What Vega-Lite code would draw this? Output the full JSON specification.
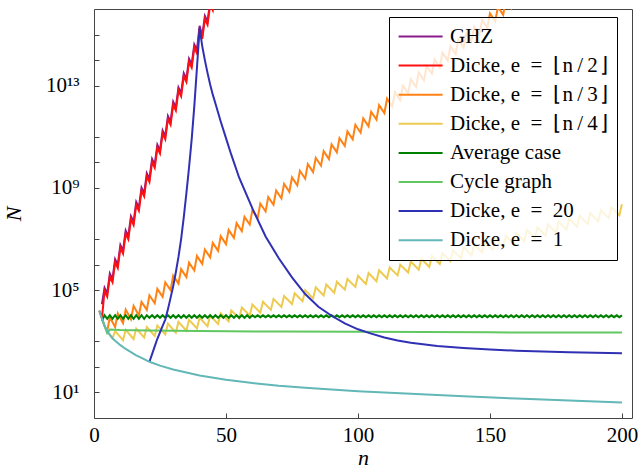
{
"$schema": "https://vega.github.io/schema/vega-lite/v6.json",
"width": 538, "height": 409,
"autosize": {"type": "none"},
"padding": {"left": 94, "top": 9, "right": 9, "bottom": 50},
"background": "white",
"config": {
  "view": {"stroke": "#444", "strokeWidth": 1},
  "font": "Liberation Serif, Times New Roman, serif",
  "legend": {"strokeWidth": 1},
  "axis": {"grid": false, "domain": false, "tickSize": -5, "tickColor": "#444", "tickWidth": 1,
           "labelFont": "Liberation Serif, Times New Roman, serif", "labelFontSize": 21, "labelColor": "black",
           "titleFont": "Liberation Serif, Times New Roman, serif", "titleFontSize": 22, "titleFontWeight": "normal", "titleFontStyle": "italic", "titleColor": "black",
           "labelOverlap": false}
},
"data": {"values": [
{"s":"GHZ","n":3,"N":2.82e4},{"s":"GHZ","n":4,"N":1.23e5},{"s":"GHZ","n":5,"N":7.41e4},{"s":"GHZ","n":6,"N":4.47e5},{"s":"GHZ","n":7,"N":2.69e5},{"s":"GHZ","n":8,"N":1.62e6},{"s":"GHZ","n":9,"N":9.77e5},{"s":"GHZ","n":10,"N":5.89e6},{"s":"GHZ","n":11,"N":3.55e6},{"s":"GHZ","n":12,"N":2.14e7},{"s":"GHZ","n":13,"N":1.29e7},{"s":"GHZ","n":14,"N":7.76e7},{"s":"GHZ","n":15,"N":4.68e7},{"s":"GHZ","n":16,"N":2.82e8},{"s":"GHZ","n":17,"N":1.70e8},{"s":"GHZ","n":18,"N":1.02e9},{"s":"GHZ","n":19,"N":6.17e8},{"s":"GHZ","n":20,"N":3.72e9},{"s":"GHZ","n":21,"N":2.24e9},{"s":"GHZ","n":22,"N":1.35e10},{"s":"GHZ","n":23,"N":8.13e9},{"s":"GHZ","n":24,"N":4.90e10},{"s":"GHZ","n":25,"N":2.95e10},{"s":"GHZ","n":26,"N":1.78e11},{"s":"GHZ","n":27,"N":1.07e11},{"s":"GHZ","n":28,"N":6.46e11},{"s":"GHZ","n":29,"N":3.89e11},{"s":"GHZ","n":30,"N":2.34e12},{"s":"GHZ","n":31,"N":1.41e12},{"s":"GHZ","n":32,"N":8.51e12},{"s":"GHZ","n":33,"N":5.13e12},{"s":"GHZ","n":34,"N":3.09e13},{"s":"GHZ","n":35,"N":1.86e13},{"s":"GHZ","n":36,"N":1.12e14},{"s":"GHZ","n":37,"N":6.76e13},{"s":"GHZ","n":38,"N":4.07e14},{"s":"GHZ","n":39,"N":2.45e14},{"s":"GHZ","n":40,"N":2.19e15},{"s":"GHZ","n":41,"N":8.91e14},{"s":"GHZ","n":42,"N":5.37e15},{"s":"GHZ","n":43,"N":3.24e15},{"s":"GHZ","n":44,"N":1.95e16},{"s":"GHZ","n":45,"N":1.17e16},
{"s":"D2","n":2,"N":1.58e4},{"s":"D2","n":3,"N":7.94e3},{"s":"D2","n":4,"N":9.33e4},{"s":"D2","n":5,"N":5.62e4},{"s":"D2","n":6,"N":3.39e5},{"s":"D2","n":7,"N":2.04e5},{"s":"D2","n":8,"N":1.23e6},{"s":"D2","n":9,"N":7.41e5},{"s":"D2","n":10,"N":4.47e6},{"s":"D2","n":11,"N":2.69e6},{"s":"D2","n":12,"N":1.62e7},{"s":"D2","n":13,"N":9.77e6},{"s":"D2","n":14,"N":5.89e7},{"s":"D2","n":15,"N":3.55e7},{"s":"D2","n":16,"N":2.14e8},{"s":"D2","n":17,"N":1.29e8},{"s":"D2","n":18,"N":7.76e8},{"s":"D2","n":19,"N":4.68e8},{"s":"D2","n":20,"N":2.82e9},{"s":"D2","n":21,"N":1.70e9},{"s":"D2","n":22,"N":1.02e10},{"s":"D2","n":23,"N":6.17e9},{"s":"D2","n":24,"N":3.72e10},{"s":"D2","n":25,"N":2.24e10},{"s":"D2","n":26,"N":1.35e11},{"s":"D2","n":27,"N":8.13e10},{"s":"D2","n":28,"N":4.90e11},{"s":"D2","n":29,"N":2.95e11},{"s":"D2","n":30,"N":1.78e12},{"s":"D2","n":31,"N":1.07e12},{"s":"D2","n":32,"N":6.46e12},{"s":"D2","n":33,"N":3.89e12},{"s":"D2","n":34,"N":2.34e13},{"s":"D2","n":35,"N":1.41e13},{"s":"D2","n":36,"N":8.51e13},{"s":"D2","n":37,"N":5.13e13},{"s":"D2","n":38,"N":3.09e14},{"s":"D2","n":39,"N":1.86e14},{"s":"D2","n":40,"N":1.66e15},{"s":"D2","n":41,"N":6.76e14},{"s":"D2","n":42,"N":4.07e15},{"s":"D2","n":43,"N":2.45e15},{"s":"D2","n":44,"N":1.48e16},{"s":"D2","n":45,"N":8.91e15},{"s":"D2","n":46,"N":5.37e16},
{"s":"D3","n":3,"N":7.94e3},{"s":"D3","n":4,"N":3.98e3},{"s":"D3","n":5,"N":2.51e3},{"s":"D3","n":6,"N":8.71e3},{"s":"D3","n":8,"N":3.63e3},{"s":"D3","n":9,"N":1.23e4},{"s":"D3","n":11,"N":5.13e3},{"s":"D3","n":12,"N":1.74e4},{"s":"D3","n":14,"N":7.24e3},{"s":"D3","n":15,"N":2.45e4},{"s":"D3","n":17,"N":1.02e4},{"s":"D3","n":18,"N":3.47e4},{"s":"D3","n":20,"N":1.70e4},{"s":"D3","n":21,"N":6.31e4},{"s":"D3","n":23,"N":3.09e4},{"s":"D3","n":24,"N":1.12e5},{"s":"D3","n":26,"N":5.50e4},{"s":"D3","n":27,"N":2.04e5},{"s":"D3","n":29,"N":1.00e5},{"s":"D3","n":30,"N":3.72e5},{"s":"D3","n":32,"N":1.82e5},{"s":"D3","n":33,"N":6.61e5},{"s":"D3","n":35,"N":3.24e5},{"s":"D3","n":36,"N":1.20e6},{"s":"D3","n":38,"N":5.89e5},{"s":"D3","n":39,"N":2.19e6},{"s":"D3","n":41,"N":1.07e6},{"s":"D3","n":42,"N":3.89e6},{"s":"D3","n":44,"N":1.91e6},{"s":"D3","n":45,"N":7.08e6},{"s":"D3","n":47,"N":3.47e6},{"s":"D3","n":48,"N":1.29e7},{"s":"D3","n":50,"N":6.31e6},{"s":"D3","n":51,"N":2.29e7},{"s":"D3","n":53,"N":1.12e7},{"s":"D3","n":54,"N":4.17e7},{"s":"D3","n":56,"N":2.04e7},{"s":"D3","n":57,"N":7.41e7},{"s":"D3","n":59,"N":3.72e7},{"s":"D3","n":60,"N":1.35e8},{"s":"D3","n":62,"N":6.61e7},{"s":"D3","n":63,"N":2.45e8},{"s":"D3","n":65,"N":1.20e8},{"s":"D3","n":66,"N":4.37e8},{"s":"D3","n":68,"N":2.19e8},{"s":"D3","n":69,"N":7.94e8},{"s":"D3","n":71,"N":3.89e8},{"s":"D3","n":72,"N":1.45e9},{"s":"D3","n":74,"N":7.08e8},{"s":"D3","n":75,"N":2.57e9},{"s":"D3","n":77,"N":1.26e9},{"s":"D3","n":78,"N":4.68e9},{"s":"D3","n":80,"N":2.29e9},{"s":"D3","n":81,"N":8.51e9},{"s":"D3","n":83,"N":4.17e9},{"s":"D3","n":84,"N":1.51e10},{"s":"D3","n":86,"N":7.41e9},{"s":"D3","n":87,"N":2.75e10},{"s":"D3","n":89,"N":1.35e10},{"s":"D3","n":90,"N":5.01e10},{"s":"D3","n":92,"N":2.45e10},{"s":"D3","n":93,"N":8.91e10},{"s":"D3","n":95,"N":4.37e10},{"s":"D3","n":96,"N":1.62e11},{"s":"D3","n":98,"N":7.94e10},{"s":"D3","n":99,"N":2.95e11},{"s":"D3","n":101,"N":1.45e11},{"s":"D3","n":102,"N":5.25e11},{"s":"D3","n":104,"N":2.57e11},{"s":"D3","n":105,"N":9.55e11},{"s":"D3","n":107,"N":4.68e11},{"s":"D3","n":108,"N":1.74e12},{"s":"D3","n":110,"N":8.51e11},{"s":"D3","n":111,"N":3.09e12},{"s":"D3","n":113,"N":1.51e12},{"s":"D3","n":114,"N":5.62e12},{"s":"D3","n":116,"N":2.75e12},{"s":"D3","n":117,"N":1.00e13},{"s":"D3","n":119,"N":5.01e12},{"s":"D3","n":120,"N":1.82e13},{"s":"D3","n":122,"N":8.91e12},{"s":"D3","n":123,"N":3.31e13},{"s":"D3","n":125,"N":1.62e13},{"s":"D3","n":126,"N":5.89e13},{"s":"D3","n":128,"N":2.95e13},{"s":"D3","n":129,"N":1.07e14},{"s":"D3","n":131,"N":5.25e13},{"s":"D3","n":132,"N":1.95e14},{"s":"D3","n":134,"N":9.55e13},{"s":"D3","n":135,"N":3.47e14},{"s":"D3","n":137,"N":1.70e14},{"s":"D3","n":138,"N":6.31e14},{"s":"D3","n":140,"N":3.09e14},{"s":"D3","n":141,"N":1.15e15},{"s":"D3","n":143,"N":5.62e14},{"s":"D3","n":144,"N":2.04e15},{"s":"D3","n":146,"N":1.00e15},{"s":"D3","n":147,"N":3.72e15},{"s":"D3","n":149,"N":1.82e15},{"s":"D3","n":150,"N":6.76e15},{"s":"D3","n":152,"N":3.31e15},{"s":"D3","n":153,"N":1.20e16},{"s":"D3","n":155,"N":5.89e15},{"s":"D3","n":156,"N":2.19e16},{"s":"D3","n":158,"N":1.07e16},{"s":"D3","n":159,"N":3.98e16},
{"s":"D4","n":4,"N":3.98e3},{"s":"D4","n":5,"N":2.51e3},{"s":"D4","n":6,"N":1.78e3},{"s":"D4","n":7,"N":1.32e3},{"s":"D4","n":8,"N":2.51e3},{"s":"D4","n":11,"N":1.10e3},{"s":"D4","n":12,"N":2.82e3},{"s":"D4","n":15,"N":1.23e3},{"s":"D4","n":16,"N":3.16e3},{"s":"D4","n":19,"N":1.41e3},{"s":"D4","n":20,"N":3.63e3},{"s":"D4","n":23,"N":1.62e3},{"s":"D4","n":24,"N":4.17e3},{"s":"D4","n":27,"N":1.86e3},{"s":"D4","n":28,"N":4.90e3},{"s":"D4","n":31,"N":2.19e3},{"s":"D4","n":32,"N":5.75e3},{"s":"D4","n":35,"N":2.63e3},{"s":"D4","n":36,"N":6.92e3},{"s":"D4","n":39,"N":3.16e3},{"s":"D4","n":40,"N":8.32e3},{"s":"D4","n":43,"N":3.89e3},{"s":"D4","n":44,"N":1.02e4},{"s":"D4","n":47,"N":4.79e3},{"s":"D4","n":48,"N":1.26e4},{"s":"D4","n":51,"N":6.03e3},{"s":"D4","n":52,"N":1.62e4},{"s":"D4","n":55,"N":7.94e3},{"s":"D4","n":56,"N":2.09e4},{"s":"D4","n":59,"N":1.02e4},{"s":"D4","n":60,"N":2.75e4},{"s":"D4","n":63,"N":1.32e4},{"s":"D4","n":64,"N":3.55e4},{"s":"D4","n":67,"N":1.70e4},{"s":"D4","n":68,"N":4.57e4},{"s":"D4","n":71,"N":2.19e4},{"s":"D4","n":72,"N":5.89e4},{"s":"D4","n":75,"N":2.88e4},{"s":"D4","n":76,"N":7.59e4},{"s":"D4","n":79,"N":3.72e4},{"s":"D4","n":80,"N":1.00e5},{"s":"D4","n":83,"N":4.79e4},{"s":"D4","n":84,"N":1.29e5},{"s":"D4","n":87,"N":6.17e4},{"s":"D4","n":88,"N":1.66e5},{"s":"D4","n":91,"N":7.94e4},{"s":"D4","n":92,"N":2.14e5},{"s":"D4","n":95,"N":1.05e5},{"s":"D4","n":96,"N":2.75e5},{"s":"D4","n":99,"N":1.35e5},{"s":"D4","n":100,"N":3.63e5},{"s":"D4","n":103,"N":1.74e5},{"s":"D4","n":104,"N":4.68e5},{"s":"D4","n":107,"N":2.24e5},{"s":"D4","n":108,"N":6.03e5},{"s":"D4","n":111,"N":2.88e5},{"s":"D4","n":112,"N":7.76e5},{"s":"D4","n":115,"N":3.80e5},{"s":"D4","n":116,"N":1.00e6},{"s":"D4","n":119,"N":4.90e5},{"s":"D4","n":120,"N":1.32e6},{"s":"D4","n":123,"N":6.31e5},{"s":"D4","n":124,"N":1.70e6},{"s":"D4","n":127,"N":8.13e5},{"s":"D4","n":128,"N":2.19e6},{"s":"D4","n":131,"N":1.05e6},{"s":"D4","n":132,"N":2.82e6},{"s":"D4","n":135,"N":1.38e6},{"s":"D4","n":136,"N":3.63e6},{"s":"D4","n":139,"N":1.78e6},{"s":"D4","n":140,"N":4.79e6},{"s":"D4","n":143,"N":2.29e6},{"s":"D4","n":144,"N":6.17e6},{"s":"D4","n":147,"N":2.95e6},{"s":"D4","n":148,"N":7.94e6},{"s":"D4","n":151,"N":3.80e6},{"s":"D4","n":152,"N":1.02e7},{"s":"D4","n":155,"N":5.01e6},{"s":"D4","n":156,"N":1.32e7},{"s":"D4","n":159,"N":6.46e6},{"s":"D4","n":160,"N":1.74e7},{"s":"D4","n":163,"N":8.32e6},{"s":"D4","n":164,"N":2.24e7},{"s":"D4","n":167,"N":1.07e7},{"s":"D4","n":168,"N":2.88e7},{"s":"D4","n":171,"N":1.38e7},{"s":"D4","n":172,"N":3.72e7},{"s":"D4","n":175,"N":1.82e7},{"s":"D4","n":176,"N":4.79e7},{"s":"D4","n":179,"N":2.34e7},{"s":"D4","n":180,"N":6.31e7},{"s":"D4","n":183,"N":3.02e7},{"s":"D4","n":184,"N":8.13e7},{"s":"D4","n":187,"N":3.89e7},{"s":"D4","n":188,"N":1.05e8},{"s":"D4","n":191,"N":5.01e7},{"s":"D4","n":192,"N":1.35e8},{"s":"D4","n":195,"N":6.61e7},{"s":"D4","n":196,"N":1.74e8},{"s":"D4","n":199,"N":8.51e7},{"s":"D4","n":200,"N":2.29e8},
{"s":"AVG","n":3,"N":6.31e3},{"s":"AVG","n":4,"N":1.05e4},{"s":"AVG","n":5,"N":7.59e3},{"s":"AVG","n":6,"N":1.05e4},{"s":"AVG","n":7,"N":7.59e3},{"s":"AVG","n":8,"N":1.05e4},{"s":"AVG","n":9,"N":7.59e3},{"s":"AVG","n":10,"N":1.05e4},{"s":"AVG","n":11,"N":7.59e3},{"s":"AVG","n":12,"N":1.05e4},{"s":"AVG","n":13,"N":7.59e3},{"s":"AVG","n":14,"N":1.05e4},{"s":"AVG","n":15,"N":7.59e3},{"s":"AVG","n":16,"N":1.05e4},{"s":"AVG","n":17,"N":7.59e3},{"s":"AVG","n":18,"N":1.05e4},{"s":"AVG","n":19,"N":7.59e3},{"s":"AVG","n":20,"N":1.05e4},
{"s":"AVG","n":21,"N":8.32e3},{"s":"AVG","n":22,"N":1.05e4},{"s":"AVG","n":23,"N":8.32e3},{"s":"AVG","n":24,"N":1.05e4},{"s":"AVG","n":25,"N":8.32e3},{"s":"AVG","n":26,"N":1.05e4},{"s":"AVG","n":27,"N":8.32e3},{"s":"AVG","n":28,"N":1.05e4},{"s":"AVG","n":29,"N":8.32e3},{"s":"AVG","n":30,"N":1.05e4},{"s":"AVG","n":31,"N":8.32e3},{"s":"AVG","n":32,"N":1.05e4},{"s":"AVG","n":33,"N":8.32e3},{"s":"AVG","n":34,"N":1.05e4},{"s":"AVG","n":35,"N":8.32e3},{"s":"AVG","n":36,"N":1.05e4},{"s":"AVG","n":37,"N":8.32e3},{"s":"AVG","n":38,"N":1.05e4},{"s":"AVG","n":39,"N":8.32e3},{"s":"AVG","n":40,"N":1.05e4},{"s":"AVG","n":41,"N":8.32e3},{"s":"AVG","n":42,"N":1.05e4},{"s":"AVG","n":43,"N":8.32e3},{"s":"AVG","n":44,"N":1.05e4},{"s":"AVG","n":45,"N":8.32e3},{"s":"AVG","n":46,"N":1.05e4},{"s":"AVG","n":47,"N":8.32e3},{"s":"AVG","n":48,"N":1.05e4},{"s":"AVG","n":49,"N":8.32e3},{"s":"AVG","n":50,"N":1.05e4},{"s":"AVG","n":51,"N":8.32e3},{"s":"AVG","n":52,"N":1.05e4},{"s":"AVG","n":53,"N":8.32e3},{"s":"AVG","n":54,"N":1.05e4},{"s":"AVG","n":55,"N":8.32e3},{"s":"AVG","n":56,"N":1.05e4},{"s":"AVG","n":57,"N":8.32e3},{"s":"AVG","n":58,"N":1.05e4},{"s":"AVG","n":59,"N":8.32e3},{"s":"AVG","n":60,"N":1.05e4},
{"s":"AVG","n":61,"N":8.81e3},{"s":"AVG","n":62,"N":1.04e4},{"s":"AVG","n":63,"N":8.81e3},{"s":"AVG","n":64,"N":1.04e4},{"s":"AVG","n":65,"N":8.81e3},{"s":"AVG","n":66,"N":1.04e4},{"s":"AVG","n":67,"N":8.81e3},{"s":"AVG","n":68,"N":1.04e4},{"s":"AVG","n":69,"N":8.81e3},{"s":"AVG","n":70,"N":1.04e4},{"s":"AVG","n":71,"N":8.81e3},{"s":"AVG","n":72,"N":1.04e4},{"s":"AVG","n":73,"N":8.81e3},{"s":"AVG","n":74,"N":1.04e4},{"s":"AVG","n":75,"N":8.81e3},{"s":"AVG","n":76,"N":1.04e4},{"s":"AVG","n":77,"N":8.81e3},{"s":"AVG","n":78,"N":1.04e4},{"s":"AVG","n":79,"N":8.81e3},{"s":"AVG","n":80,"N":1.04e4},{"s":"AVG","n":81,"N":8.81e3},{"s":"AVG","n":82,"N":1.04e4},{"s":"AVG","n":83,"N":8.81e3},{"s":"AVG","n":84,"N":1.04e4},{"s":"AVG","n":85,"N":8.81e3},{"s":"AVG","n":86,"N":1.04e4},{"s":"AVG","n":87,"N":8.81e3},{"s":"AVG","n":88,"N":1.04e4},{"s":"AVG","n":89,"N":8.81e3},{"s":"AVG","n":90,"N":1.04e4},{"s":"AVG","n":91,"N":8.81e3},{"s":"AVG","n":92,"N":1.04e4},{"s":"AVG","n":93,"N":8.81e3},{"s":"AVG","n":94,"N":1.04e4},{"s":"AVG","n":95,"N":8.81e3},{"s":"AVG","n":96,"N":1.04e4},{"s":"AVG","n":97,"N":8.81e3},{"s":"AVG","n":98,"N":1.04e4},{"s":"AVG","n":99,"N":8.81e3},{"s":"AVG","n":100,"N":1.04e4},{"s":"AVG","n":101,"N":8.81e3},{"s":"AVG","n":102,"N":1.04e4},{"s":"AVG","n":103,"N":8.81e3},{"s":"AVG","n":104,"N":1.04e4},{"s":"AVG","n":105,"N":8.81e3},{"s":"AVG","n":106,"N":1.04e4},{"s":"AVG","n":107,"N":8.81e3},{"s":"AVG","n":108,"N":1.04e4},{"s":"AVG","n":109,"N":8.81e3},{"s":"AVG","n":110,"N":1.04e4},{"s":"AVG","n":111,"N":8.81e3},{"s":"AVG","n":112,"N":1.04e4},{"s":"AVG","n":113,"N":8.81e3},{"s":"AVG","n":114,"N":1.04e4},{"s":"AVG","n":115,"N":8.81e3},{"s":"AVG","n":116,"N":1.04e4},{"s":"AVG","n":117,"N":8.81e3},{"s":"AVG","n":118,"N":1.04e4},{"s":"AVG","n":119,"N":8.81e3},{"s":"AVG","n":120,"N":1.04e4},{"s":"AVG","n":121,"N":8.81e3},{"s":"AVG","n":122,"N":1.04e4},{"s":"AVG","n":123,"N":8.81e3},{"s":"AVG","n":124,"N":1.04e4},{"s":"AVG","n":125,"N":8.81e3},{"s":"AVG","n":126,"N":1.04e4},{"s":"AVG","n":127,"N":8.81e3},{"s":"AVG","n":128,"N":1.04e4},{"s":"AVG","n":129,"N":8.81e3},{"s":"AVG","n":130,"N":1.04e4},{"s":"AVG","n":131,"N":8.81e3},{"s":"AVG","n":132,"N":1.04e4},{"s":"AVG","n":133,"N":8.81e3},{"s":"AVG","n":134,"N":1.04e4},{"s":"AVG","n":135,"N":8.81e3},{"s":"AVG","n":136,"N":1.04e4},{"s":"AVG","n":137,"N":8.81e3},{"s":"AVG","n":138,"N":1.04e4},{"s":"AVG","n":139,"N":8.81e3},{"s":"AVG","n":140,"N":1.04e4},{"s":"AVG","n":141,"N":8.81e3},{"s":"AVG","n":142,"N":1.04e4},{"s":"AVG","n":143,"N":8.81e3},{"s":"AVG","n":144,"N":1.04e4},{"s":"AVG","n":145,"N":8.81e3},{"s":"AVG","n":146,"N":1.04e4},{"s":"AVG","n":147,"N":8.81e3},{"s":"AVG","n":148,"N":1.04e4},{"s":"AVG","n":149,"N":8.81e3},{"s":"AVG","n":150,"N":1.04e4},{"s":"AVG","n":151,"N":8.81e3},{"s":"AVG","n":152,"N":1.04e4},{"s":"AVG","n":153,"N":8.81e3},{"s":"AVG","n":154,"N":1.04e4},{"s":"AVG","n":155,"N":8.81e3},{"s":"AVG","n":156,"N":1.04e4},{"s":"AVG","n":157,"N":8.81e3},{"s":"AVG","n":158,"N":1.04e4},{"s":"AVG","n":159,"N":8.81e3},{"s":"AVG","n":160,"N":1.04e4},{"s":"AVG","n":161,"N":8.81e3},{"s":"AVG","n":162,"N":1.04e4},{"s":"AVG","n":163,"N":8.81e3},{"s":"AVG","n":164,"N":1.04e4},{"s":"AVG","n":165,"N":8.81e3},{"s":"AVG","n":166,"N":1.04e4},{"s":"AVG","n":167,"N":8.81e3},{"s":"AVG","n":168,"N":1.04e4},{"s":"AVG","n":169,"N":8.81e3},{"s":"AVG","n":170,"N":1.04e4},{"s":"AVG","n":171,"N":8.81e3},{"s":"AVG","n":172,"N":1.04e4},{"s":"AVG","n":173,"N":8.81e3},{"s":"AVG","n":174,"N":1.04e4},{"s":"AVG","n":175,"N":8.81e3},{"s":"AVG","n":176,"N":1.04e4},{"s":"AVG","n":177,"N":8.81e3},{"s":"AVG","n":178,"N":1.04e4},{"s":"AVG","n":179,"N":8.81e3},{"s":"AVG","n":180,"N":1.04e4},{"s":"AVG","n":181,"N":8.81e3},{"s":"AVG","n":182,"N":1.04e4},{"s":"AVG","n":183,"N":8.81e3},{"s":"AVG","n":184,"N":1.04e4},{"s":"AVG","n":185,"N":8.81e3},{"s":"AVG","n":186,"N":1.04e4},{"s":"AVG","n":187,"N":8.81e3},{"s":"AVG","n":188,"N":1.04e4},{"s":"AVG","n":189,"N":8.81e3},{"s":"AVG","n":190,"N":1.04e4},{"s":"AVG","n":191,"N":8.81e3},{"s":"AVG","n":192,"N":1.04e4},{"s":"AVG","n":193,"N":8.81e3},{"s":"AVG","n":194,"N":1.04e4},{"s":"AVG","n":195,"N":8.81e3},{"s":"AVG","n":196,"N":1.04e4},{"s":"AVG","n":197,"N":8.81e3},{"s":"AVG","n":198,"N":1.04e4},{"s":"AVG","n":199,"N":8.81e3},{"s":"AVG","n":200,"N":1.04e4},
{"s":"CYC","n":3,"N":7.94e3},{"s":"CYC","n":4,"N":3.98e3},{"s":"CYC","n":5,"N":2.09e3},{"s":"CYC","n":6,"N":2.88e3},{"s":"CYC","n":10,"N":2.75e3},{"s":"CYC","n":20,"N":2.63e3},{"s":"CYC","n":40,"N":2.51e3},{"s":"CYC","n":70,"N":2.40e3},{"s":"CYC","n":100,"N":2.34e3},{"s":"CYC","n":150,"N":2.24e3},{"s":"CYC","n":200,"N":2.19e3},
{"s":"D20","n":21,"N":158},{"s":"D20","n":22,"N":316},{"s":"D20","n":23,"N":631},{"s":"D20","n":24,"N":1.26e3},{"s":"D20","n":25,"N":2.24e3},{"s":"D20","n":26,"N":3.98e3},{"s":"D20","n":27,"N":7.08e3},{"s":"D20","n":28,"N":1.78e4},{"s":"D20","n":29,"N":5.01e4},{"s":"D20","n":30,"N":1.41e5},{"s":"D20","n":31,"N":5.01e5},{"s":"D20","n":32,"N":2.0e6},{"s":"D20","n":33,"N":1.0e7},{"s":"D20","n":34,"N":7.08e7},{"s":"D20","n":35,"N":6.31e8},{"s":"D20","n":36,"N":6.31e9},{"s":"D20","n":37,"N":7.94e10},{"s":"D20","n":38,"N":1.58e12},{"s":"D20","n":39,"N":5.01e13},{"s":"D20","n":40,"N":1.78e15},{"s":"D20","n":41,"N":3.55e14},{"s":"D20","n":42,"N":1.0e14},{"s":"D20","n":43,"N":3.16e13},{"s":"D20","n":44,"N":1.12e13},{"s":"D20","n":45,"N":4.47e12},{"s":"D20","n":46,"N":2.0e12},{"s":"D20","n":47,"N":8.91e11},{"s":"D20","n":48,"N":3.98e11},{"s":"D20","n":50,"N":8.91e10},{"s":"D20","n":52,"N":2.0e10},{"s":"D20","n":55,"N":2.51e9},{"s":"D20","n":60,"N":1.58e8},{"s":"D20","n":65,"N":1.26e7},{"s":"D20","n":70,"N":1.78e6},{"s":"D20","n":75,"N":3.16e5},{"s":"D20","n":80,"N":7.08e4},{"s":"D20","n":85,"N":2.24e4},{"s":"D20","n":90,"N":1.0e4},{"s":"D20","n":95,"N":5.01e3},{"s":"D20","n":100,"N":2.95e3},{"s":"D20","n":105,"N":2.0e3},{"s":"D20","n":110,"N":1.41e3},{"s":"D20","n":115,"N":1.07e3},{"s":"D20","n":120,"N":871},{"s":"D20","n":130,"N":661},{"s":"D20","n":140,"N":550},{"s":"D20","n":150,"N":479},{"s":"D20","n":160,"N":427},{"s":"D20","n":170,"N":398},{"s":"D20","n":180,"N":372},{"s":"D20","n":190,"N":355},{"s":"D20","n":200,"N":339},
{"s":"D1","n":2,"N":1.58e4},{"s":"D1","n":3,"N":7.94e3},{"s":"D1","n":4,"N":3.98e3},{"s":"D1","n":5,"N":2.51e3},{"s":"D1","n":6,"N":1.78e3},{"s":"D1","n":7,"N":1.32e3},{"s":"D1","n":8,"N":1.05e3},{"s":"D1","n":10,"N":708},{"s":"D1","n":12,"N":501},{"s":"D1","n":14,"N":380},{"s":"D1","n":16,"N":282},{"s":"D1","n":18,"N":224},{"s":"D1","n":21,"N":158},{"s":"D1","n":25,"N":112},{"s":"D1","n":30,"N":79.4},{"s":"D1","n":35,"N":60.3},{"s":"D1","n":40,"N":45.7},{"s":"D1","n":50,"N":31.6},{"s":"D1","n":60,"N":23.4},{"s":"D1","n":70,"N":18.2},{"s":"D1","n":80,"N":15.1},{"s":"D1","n":90,"N":12.9},{"s":"D1","n":100,"N":11.2},{"s":"D1","n":120,"N":8.91},{"s":"D1","n":140,"N":7.08},{"s":"D1","n":160,"N":5.75},{"s":"D1","n":180,"N":4.79},{"s":"D1","n":200,"N":4.07}
]},
"mark": {"type": "line", "clip": true, "strokeWidth": 2},
"encoding": {
  "x": {"field": "n", "type": "quantitative",
        "scale": {"domain": [0, 203.8], "nice": false, "zero": false},
        "axis": {"values": [0, 50, 100, 150, 200], "title": "n", "labelFlush": false, "labelPadding": 11, "titlePadding": 2}},
  "y": {"field": "N", "type": "quantitative",
        "scale": {"type": "log", "domain": [1, 1e16], "nice": false},
        "axis": {"values": [10, 100, 1000, 100000, 1000000, 10000000, 1000000000, 10000000000, 100000000000, 10000000000000, 100000000000000, 1000000000000000],
                 "labelExpr": "datum.value == 10 ? '10¹' : datum.value == 100000 ? '10⁵' : datum.value == 1000000000 ? '10⁹' : datum.value == 10000000000000 ? '10¹³' : ''",
                 "title": "N", "labelPadding": 20, "titlePadding": 20}},
  "color": {"field": "s", "type": "nominal",
            "scale": {"domain": ["GHZ", "D2", "D3", "D4", "AVG", "CYC", "D20", "D1"],
                      "range": ["#8b1a8b", "#ff1010", "#ff8214", "#edcb50", "#008000", "#61c861", "#3030b4", "#62b7b7"]},
            "legend": {"orient": "none", "legendX": 295, "legendY": 8, "title": null,
                       "symbolType": "M-1.8,0H6.2", "symbolSize": 121, "symbolStrokeWidth": 2,
                       "labelFont": "Liberation Serif, Times New Roman, serif", "labelFontSize": 21, "labelColor": "black", "labelOffset": 31, "labelLimit": 400,
                       "rowPadding": 7.1, "padding": 9,
                       "fillColor": "rgba(255,255,255,0.8)", "strokeColor": "black",
                       "labelExpr": "datum.label == 'D2' ? 'Dicke, e\u2002=\u2002⌊\u200an\u2009/\u20092\u200a⌋' : datum.label == 'D3' ? 'Dicke, e\u2002=\u2002⌊\u200an\u2009/\u20093\u200a⌋' : datum.label == 'D4' ? 'Dicke, e\u2002=\u2002⌊\u200an\u2009/\u20094\u200a⌋' : datum.label == 'AVG' ? 'Average case' : datum.label == 'CYC' ? 'Cycle graph' : datum.label == 'D20' ? 'Dicke, e\u2002=\u200220' : datum.label == 'D1' ? 'Dicke, e\u2002=\u20021' : datum.label"}}
}
}
